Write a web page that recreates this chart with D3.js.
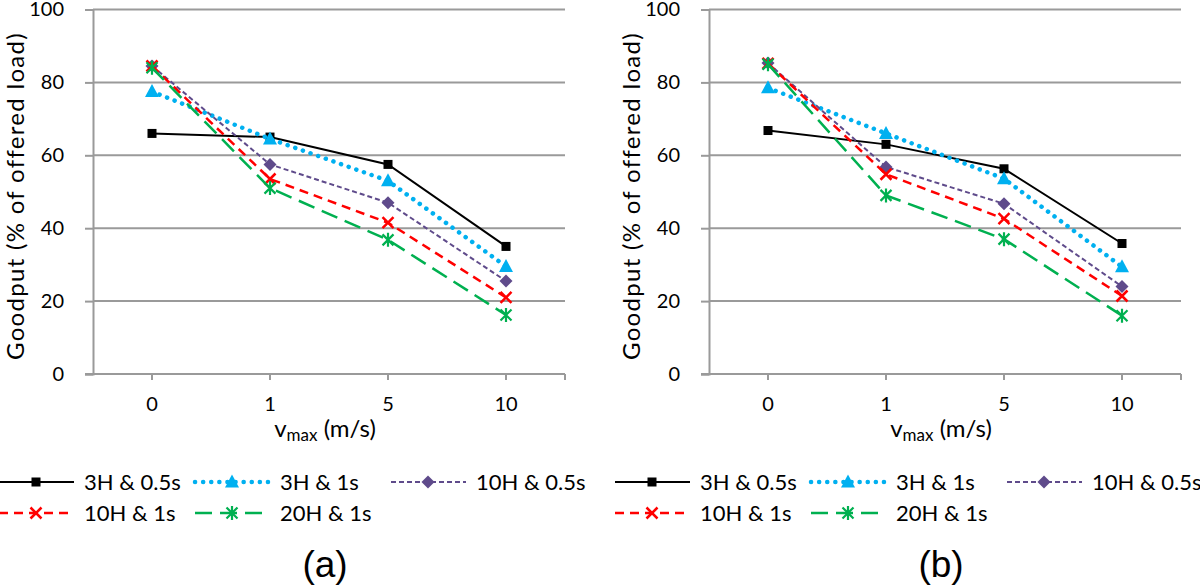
<!DOCTYPE html>
<html>
<head>
<meta charset="utf-8">
<script src="https://cdn.jsdelivr.net/npm/d3@7"></script>
<style>
  html, body { margin: 0; padding: 0; background: #fff; }
  svg { display: block; }
  text { font-family: Lato, "Open Sans", sans-serif; fill: #000; }
</style>
</head>
<body>
<svg id="chart" width="1200" height="587"></svg>
<script>
// ---- data ----
const categories = ["0", "1", "5", "10"];
const seriesNames = ["3H & 0.5s", "3H & 1s", "10H & 0.5s", "10H & 1s", "20H & 1s"];
const yTicks = [0, 20, 40, 60, 80, 100];

// panel (a)
const a_3H_05 = [66.0, 65.0, 57.5, 35.0];
const a_3H_1  = [77.5, 64.5, 53.0, 29.5];
const a_10H_05 = [84.5, 57.5, 47.0, 25.5];
const a_10H_1 = [84.5, 53.5, 41.5, 21.0];
const a_20H_1 = [84.0, 51.0, 36.8, 16.2];

// panel (b)
const b_3H_05 = [66.8, 63.0, 56.3, 35.8];
const b_3H_1  = [78.5, 66.0, 53.6, 29.4];
const b_10H_05 = [85.3, 56.8, 46.7, 24.0];
const b_10H_1 = [85.2, 54.8, 42.6, 21.4];
const b_20H_1 = [85.0, 49.0, 37.0, 16.0];

const panelLabels = ["(a)", "(b)"];
const yTitle = "Goodput (% of offered load)";

// ---- styles ----
const styles = [
  { color: "#000000", width: 2,   dash: null,     cap: "butt",  marker: "square" },
  { color: "#00B0F0", width: 4.5, dash: "0.1 8",  cap: "round", marker: "triangle" },
  { color: "#5F4B8B", width: 2,   dash: "5 3",    cap: "butt",  marker: "diamond" },
  { color: "#FF0000", width: 2.5, dash: "9 6",    cap: "butt",  marker: "x" },
  { color: "#00B050", width: 2.5, dash: "17 8",   cap: "butt",  marker: "star" }
];

const panels = [
  { dx: 0,   data: [a_3H_05, a_3H_1, a_10H_05, a_10H_1, a_20H_1], label: panelLabels[0] },
  { dx: 616, data: [b_3H_05, b_3H_1, b_10H_05, b_10H_1, b_20H_1], label: panelLabels[1] }
];

const svg = d3.select("#chart");
const gridColor = "#9a9a9a";

function drawMarker(g, type, x, y, color) {
  if (type === "square") {
    g.append("rect").attr("x", x - 4.5).attr("y", y - 4.5).attr("width", 9).attr("height", 9).attr("fill", color);
  } else if (type === "triangle") {
    g.append("path").attr("d", `M${x},${y - 7.5}L${x + 7},${y + 5.5}L${x - 7},${y + 5.5}Z`).attr("fill", color);
  } else if (type === "diamond") {
    g.append("path").attr("d", `M${x},${y - 6.5}L${x + 6.5},${y}L${x},${y + 6.5}L${x - 6.5},${y}Z`).attr("fill", color);
  } else if (type === "x") {
    g.append("path").attr("d", `M${x - 5.5},${y - 5.5}L${x + 5.5},${y + 5.5}M${x + 5.5},${y - 5.5}L${x - 5.5},${y + 5.5}`)
      .attr("stroke", color).attr("stroke-width", 2.5).attr("fill", "none");
  } else if (type === "star") {
    g.append("path").attr("d", `M${x - 5.5},${y - 5.5}L${x + 5.5},${y + 5.5}M${x + 5.5},${y - 5.5}L${x - 5.5},${y + 5.5}M${x},${y - 7}L${x},${y + 7}`)
      .attr("stroke", color).attr("stroke-width", 2.2).attr("fill", "none");
  }
}

panels.forEach(p => {
  const g = svg.append("g").attr("transform", `translate(${p.dx},0)`);
  const x = d3.scaleBand().domain(categories).range([93, 565]).paddingInner(0).paddingOuter(0);
  const y = d3.scaleLinear().domain([0, 100]).range([374, 9.5]);
  const cx = d => x(d) + x.bandwidth() / 2;

  // gridlines
  g.append("g").selectAll("line").data(yTicks.filter(t => t > 0)).join("line")
    .attr("x1", 93).attr("x2", 565).attr("y1", d => y(d)).attr("y2", d => y(d))
    .attr("stroke", gridColor).attr("stroke-width", 2);

  // y axis
  const yAxis = d3.axisLeft(y).tickValues(yTicks).tickSize(8).tickPadding(21).tickFormat(d3.format("d"));
  const ya = g.append("g").attr("transform", "translate(93,0)").call(yAxis);
  ya.select(".domain").attr("stroke", gridColor).attr("stroke-width", 2);
  ya.selectAll(".tick line").attr("stroke", gridColor).attr("stroke-width", 2);
  ya.selectAll(".tick text").style("font-family", "Lato, 'Open Sans', sans-serif").style("font-size", "20px").attr("fill", "#000");

  // x axis
  const xAxis = d3.axisBottom(x).tickSize(6).tickPadding(17).tickSizeOuter(0);
  const xa = g.append("g").attr("transform", "translate(0,374)").call(xAxis);
  xa.select(".domain").attr("stroke", gridColor).attr("stroke-width", 2).attr("d", "M85,0H565");
  xa.selectAll(".tick line").attr("stroke", gridColor).attr("stroke-width", 2);
  xa.selectAll(".tick text").style("font-family", "Lato, 'Open Sans', sans-serif").style("font-size", "20px").attr("fill", "#000");
  xa.append("line").attr("x1", 565).attr("x2", 565).attr("y1", 0).attr("y2", 6).attr("stroke", gridColor).attr("stroke-width", 2);

  // y title
  g.append("text").attr("transform", "translate(24,196) rotate(-90)")
    .attr("text-anchor", "middle").style("font-size", "24px").style("letter-spacing", "1.3px").text(yTitle);

  // x title
  const xt = g.append("text").attr("x", 325).attr("y", 437).attr("text-anchor", "middle").style("font-size", "24px");
  xt.append("tspan").text("v");
  xt.append("tspan").attr("dy", 4).style("font-size", "17px").text("max");
  xt.append("tspan").attr("dy", -4).text(" (m/s)");

  // series
  const line = d3.line().x((d, i) => cx(categories[i])).y(d => y(d));
  p.data.forEach((vals, si) => {
    const s = styles[si];
    const sg = g.append("g");
    sg.append("path").datum(vals).attr("d", line).attr("fill", "none")
      .attr("stroke", s.color).attr("stroke-width", s.width)
      .attr("stroke-dasharray", s.dash).attr("stroke-linecap", s.cap);
    vals.forEach((v, i) => drawMarker(sg, s.marker, cx(categories[i]), y(v), s.color));
  });

  // legend
  const leg = g.append("g").attr("transform", "translate(-1,0)");
  seriesNames.forEach((name, si) => {
    const s = styles[si];
    const col = si % 3, row = Math.floor(si / 3);
    const lx = col * 196, ly = row === 0 ? 482 : 513;
    const lg = leg.append("g");
    lg.append("line").attr("x1", lx).attr("x2", lx + 75).attr("y1", ly).attr("y2", ly)
      .attr("stroke", s.color).attr("stroke-width", s.width)
      .attr("stroke-dasharray", s.dash).attr("stroke-linecap", s.cap);
    drawMarker(lg, s.marker, lx + 37, ly, s.color);
    lg.append("text").attr("x", lx + 85).attr("y", ly).attr("dy", "0.35em").style("font-size", "22px").text(name);
  });

  // panel label
  g.append("text").attr("x", 325).attr("y", 577).attr("text-anchor", "middle")
    .style("font-family", "'Liberation Sans', Arial, sans-serif").style("font-size", "37px").text(p.label);
});
</script>
</body>
</html>
